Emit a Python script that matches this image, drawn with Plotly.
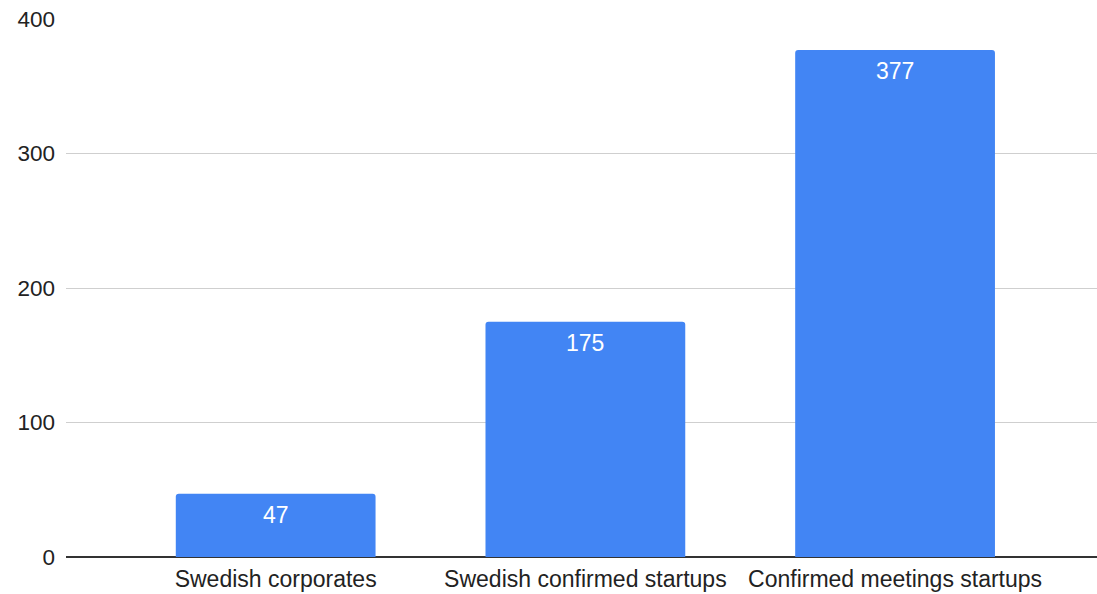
import plotly.graph_objects as go

categories = ["Swedish corporates", "Swedish confirmed startups", "Confirmed meetings startups"]
values = [47, 175, 377]
y_ticks = [0, 100, 200, 300, 400]

FONT = "Liberation Sans, Arial, Helvetica"

fig = go.Figure()
fig.add_trace(go.Bar(
    x=categories, y=values,
    marker=dict(color="#4285F4", cornerradius=3, line=dict(width=0)),
    hoverinfo="skip",
))
for c, v in zip(categories, values):
    fig.add_annotation(x=c, y=v, text=str(v), showarrow=False, yanchor="middle",
                       yshift=-21, font=dict(family=FONT, size=23, color="white"))

fig.update_layout(
    width=1097, height=594,
    margin=dict(l=66, r=0, t=19, b=37),
    paper_bgcolor="white", plot_bgcolor="white",
    bargap=0.355,
    showlegend=False,
    font=dict(family=FONT, size=23, color="#222222"),
    xaxis=dict(range=[-0.677, 2.652], showgrid=False, showline=False, zeroline=False,
               ticks="", ticklabelstandoff=6, tickfont=dict(size=23, color="#222222"), fixedrange=True),
    yaxis=dict(range=[0, 400], tickvals=y_ticks, showgrid=True, gridcolor="#cfcfcf", gridwidth=1,
               zeroline=True, zerolinecolor="#333333", zerolinewidth=1.5, showline=False,
               ticks="", ticklabelstandoff=10, tickfont=dict(size=22.5, color="#222222"), fixedrange=True),
)
fig.write_html("out.html", config={"displayModeBar": False},
               post_script="document.body.style.margin='0';document.body.style.overflow='hidden';")
